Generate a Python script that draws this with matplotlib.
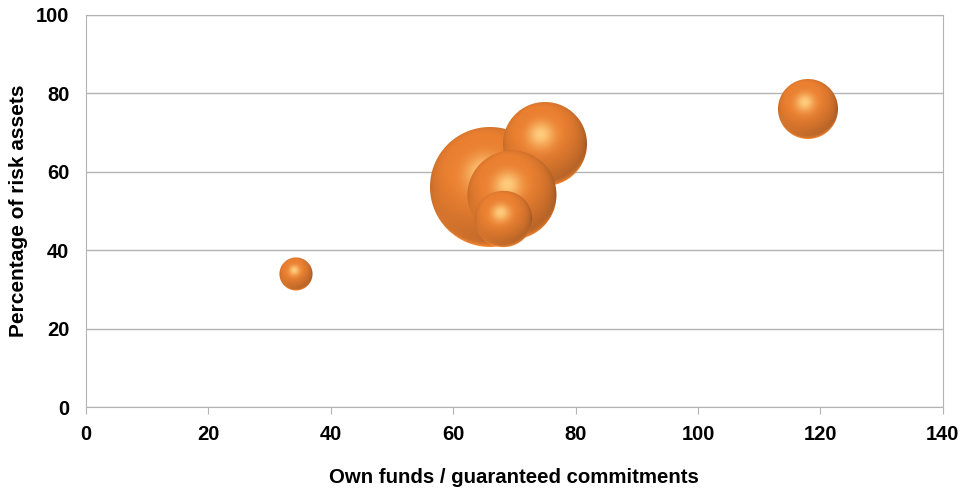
import matplotlib.pyplot as plt
import numpy as np
from matplotlib.offsetbox import OffsetImage, AnnotationBbox

plt.rcParams["font.family"] = ["Liberation Sans", "DejaVu Sans"]
plt.rcParams["font.weight"] = "bold"

# data (x, y, relative bubble size), drawn back to front
own_funds = [66.0, 75.0, 69.6, 68.1, 34.3, 118.0]
risk_pct = [56.0, 67.2, 54.0, 48.0, 34.0, 76.0]
bubble_size = [100, 49, 55, 22, 7.6, 25]

x_ticks = [0, 20, 40, 60, 80, 100, 120, 140]
y_ticks = [0, 20, 40, 60, 80, 100]

MAX_RADIUS_PX = 60


def sphere_image(r):
    n = int(np.ceil(r)) * 2 + 2
    c = (n - 1) / 2.0
    yy, xx = np.mgrid[0:n, 0:n]
    u = (xx - c) / r
    v = (c - yy) / r
    d = np.sqrt(u ** 2 + v ** 2)
    alpha = np.clip((1.0 - d) * r + 0.5, 0, 1)
    z = np.sqrt(np.clip(1 - u ** 2 - v ** 2, 0, 1))
    light = np.array([-0.2, 0.45, 0.87])
    light /= np.linalg.norm(light)
    diff = np.clip(u * light[0] + v * light[1] + z * light[2], 0, 1)
    h = light + np.array([0, 0, 1.0])
    h /= np.linalg.norm(h)
    spec = np.clip(u * h[0] + v * h[1] + z * h[2], 0, 1) ** 20
    base = np.array([0.92, 0.50, 0.19])
    dark = np.array([0.40, 0.22, 0.10])
    t = np.clip(0.25 + 0.9 * diff, 0, 1)[..., None] ** 0.55
    rgb = dark * (1 - t) + base * t
    # warm reflected light at the bottom rim
    rim = np.clip(-v, 0, 1) * (1 - z) ** 2
    rgb = rgb + rim[..., None] * np.array([0.45, 0.25, 0.08])
    rgb = rgb + spec[..., None] * np.array([0.08, 0.30, 0.30])
    rgb = np.clip(rgb, 0, 1)
    return np.dstack([rgb, alpha])


fig, ax = plt.subplots(figsize=(9.63, 4.93), dpi=100)
fig.subplots_adjust(left=0.0893, right=0.979, bottom=0.1744, top=0.9696)

ax.set_xlim(0, 140)
ax.set_ylim(0, 100)
ax.set_xticks(x_ticks)
ax.set_yticks(y_ticks)
ax.grid(axis="y", color="#b3b3b3", linewidth=1)
ax.set_axisbelow(True)
for s in ax.spines.values():
    s.set_color("#b3b3b3")
ax.tick_params(axis="x", length=5, color="#b3b3b3", labelsize=14.5, pad=8)
ax.tick_params(axis="y", length=0, labelsize=14.5, pad=12)

smax = max(bubble_size)
for x, y, s in zip(own_funds, risk_pct, bubble_size):
    r = MAX_RADIUS_PX * np.sqrt(s / smax)
    img = OffsetImage(sphere_image(r), zoom=1, dpi_cor=False)
    ab = AnnotationBbox(img, (x, y), frameon=False, pad=0)
    ax.add_artist(ab)

ax.set_xlabel("Own funds / guaranteed commitments", fontsize=14.7,
              fontweight="bold", labelpad=17)
ax.set_ylabel("Percentage of risk assets", fontsize=15,
              fontweight="bold", labelpad=6)

fig.savefig("out.png", dpi=100)
